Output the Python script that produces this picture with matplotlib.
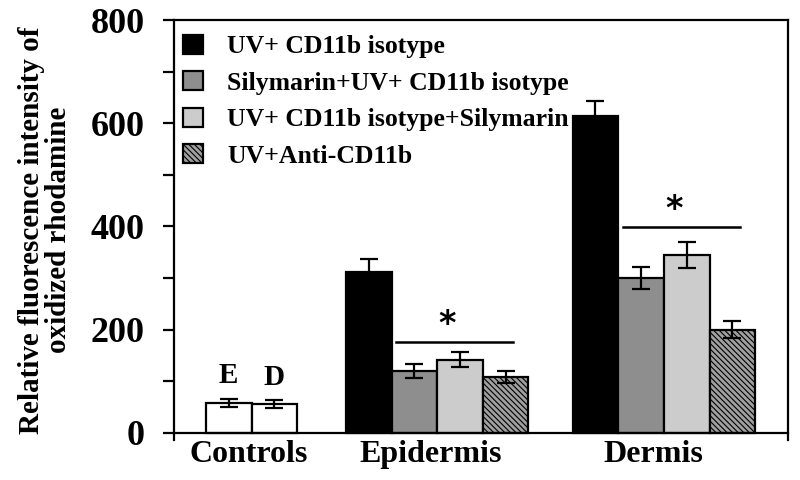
import numpy as np
import matplotlib
matplotlib.use("Agg")
import matplotlib.pyplot as plt

# ==========================================
# DATA
# ==========================================

groups = ["Controls", "Epidermis", "Dermis"]

series = [
    "UV+ CD11b isotype",
    "Silymarin+UV+ CD11b isotype",
    "UV+ CD11b isotype+Silymarin",
    "UV+Anti-CD11b",
]

control_labels = ["E", "D"]
control_vals = [58, 56]
control_err = [8, 7]

epidermis_vals = [312, 120, 142, 108]
epidermis_err = [24, 13, 14, 12]

dermis_vals = [614, 300, 345, 200]
dermis_err = [29, 21, 25, 17]

# significance bars (value height of line)
sig_epidermis = 176
sig_dermis = 399

# ==========================================
# STYLE
# ==========================================

plt.rcParams["font.family"] = ["Liberation Serif", "DejaVu Serif"]
plt.rcParams["font.weight"] = "bold"
plt.rcParams["hatch.color"] = "#505050"
plt.rcParams["hatch.linewidth"] = 0.8

faces = ["black", "#8e8e8e", "#cccccc", "#a0a0a0"]
hatches = [None, None, None, "\\\\\\\\\\\\"]

fig = plt.figure(figsize=(8, 4.8), dpi=100)
ax = fig.add_axes([0.2175, 0.0833, 0.7675, 0.875])

w = 1.0
starts = [1.2, 4.27, 9.24]

# controls
cx = starts[0] + np.arange(len(control_vals)) * w
ax.bar(cx, control_vals, width=w, color="white", edgecolor="black",
       linewidth=1.6, zorder=2)
ax.errorbar(cx, control_vals, yerr=control_err, fmt="none", ecolor="black",
            elinewidth=1.6, capsize=6.5, capthick=1.6, zorder=3)
for x, v, e, lab in zip(cx, control_vals, control_err, control_labels):
    ax.text(x, v + e + 18, lab, ha="center", va="bottom", fontsize=21,
            fontweight="bold")

# treatment groups
handles = []
for gi, (vals, errs) in enumerate([(epidermis_vals, epidermis_err),
                                   (dermis_vals, dermis_err)]):
    xs = starts[gi + 1] + np.arange(len(vals)) * w
    for i in range(len(vals)):
        b = ax.bar(xs[i], vals[i], width=w, color=faces[i], hatch=hatches[i],
                   edgecolor="black", linewidth=1.6, zorder=2,
                   label=series[i] if gi == 0 else None)
        if gi == 0:
            handles.append(b)
    ax.errorbar(xs, vals, yerr=errs, fmt="none", ecolor="black",
                elinewidth=1.6, capsize=6.5, capthick=1.6, zorder=3)

# significance lines and stars
for start, ylev in [(starts[1], sig_epidermis), (starts[2], sig_dermis)]:
    x0 = start + 0.6
    x1 = start + 3.16
    ax.plot([x0, x1], [ylev, ylev], color="black", linewidth=1.8)
    ax.text(start + 1.72, ylev + 33, "*", ha="center", va="center",
            fontsize=24, fontweight="bold", family="DejaVu Sans")

# ==========================================
# AXES
# ==========================================

ax.set_xlim(0, 13.46)
ax.set_ylim(-14, 800)
ax.spines["bottom"].set_position(("data", 0))
for s in ax.spines.values():
    s.set_linewidth(1.6)

ax.set_yticks(np.arange(0, 801, 200))
ax.set_yticks(np.arange(100, 800, 200), minor=True)
ax.tick_params(axis="y", which="both", direction="out", length=8,
               width=1.6, labelsize=26, pad=13)
ax.tick_params(axis="x", length=0, labelsize=23, pad=5)

ax.set_xticks([1.63, 5.62, 10.5])
ax.set_xticklabels(groups, fontweight="bold")
for t in ax.get_yticklabels():
    t.set_fontweight("bold")

ax.set_ylabel("Relative fluorescence intensity of\noxidized rhodamine",
              fontsize=21, fontweight="bold", linespacing=1.0)
ax.yaxis.set_label_coords(-0.166, 0.5)

ax.legend(handles=handles, loc="upper left", bbox_to_anchor=(0.014, 0.965),
          frameon=False, handlelength=0.78, handleheight=0.78,
          handletextpad=0.95, labelspacing=0.5, borderpad=0,
          borderaxespad=0, prop={"weight": "bold", "size": 18.5})

fig.savefig("out.png", dpi=100)
